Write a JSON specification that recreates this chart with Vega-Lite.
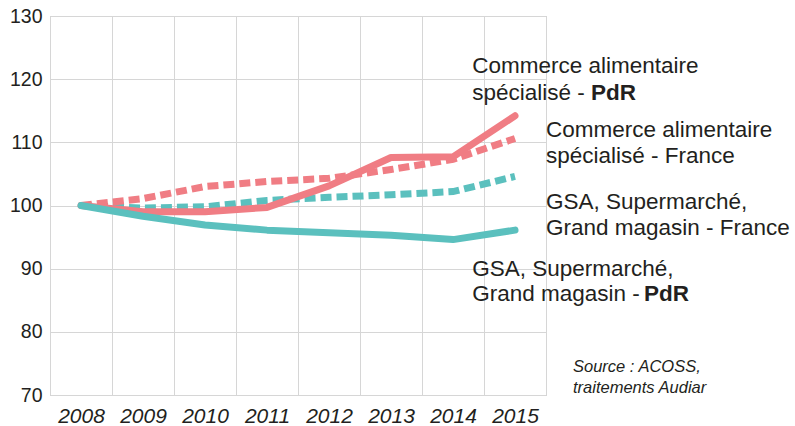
{
  "$schema": "https://vega.github.io/schema/vega-lite/v6.json",
  "width": 496,
  "height": 379,
  "autosize": "none",
  "padding": {"left": 50, "top": 16, "right": 249, "bottom": 31},
  "background": "white",
  "config": {
    "view": {"stroke": "#bdbdbd", "strokeWidth": 1},
    "axis": {"gridColor": "#d6d6d6", "gridWidth": 1, "domain": false, "ticks": false, "tickSize": 0, "title": null, "labelColor": "#231f20"}
  },
  "datasets": {
    "series": [
      {"year": "2008", "series": "GSA France", "value": 100},
      {"year": "2009", "series": "GSA France", "value": 99.6},
      {"year": "2010", "series": "GSA France", "value": 99.8},
      {"year": "2011", "series": "GSA France", "value": 100.8},
      {"year": "2012", "series": "GSA France", "value": 101.3},
      {"year": "2013", "series": "GSA France", "value": 101.7},
      {"year": "2014", "series": "GSA France", "value": 102.2},
      {"year": "2015", "series": "GSA France", "value": 104.6},
      {"year": "2008", "series": "Commerce France", "value": 100},
      {"year": "2009", "series": "Commerce France", "value": 101.1},
      {"year": "2010", "series": "Commerce France", "value": 103.0},
      {"year": "2011", "series": "Commerce France", "value": 103.8},
      {"year": "2012", "series": "Commerce France", "value": 104.3},
      {"year": "2013", "series": "Commerce France", "value": 105.7},
      {"year": "2014", "series": "Commerce France", "value": 107.3},
      {"year": "2015", "series": "Commerce France", "value": 110.6},
      {"year": "2008", "series": "Commerce PdR", "value": 100},
      {"year": "2009", "series": "Commerce PdR", "value": 99.0},
      {"year": "2010", "series": "Commerce PdR", "value": 99.0},
      {"year": "2011", "series": "Commerce PdR", "value": 99.7},
      {"year": "2012", "series": "Commerce PdR", "value": 103.1},
      {"year": "2013", "series": "Commerce PdR", "value": 107.6},
      {"year": "2014", "series": "Commerce PdR", "value": 107.7},
      {"year": "2015", "series": "Commerce PdR", "value": 114.2},
      {"year": "2008", "series": "GSA PdR", "value": 100},
      {"year": "2009", "series": "GSA PdR", "value": 98.3},
      {"year": "2010", "series": "GSA PdR", "value": 96.9},
      {"year": "2011", "series": "GSA PdR", "value": 96.1},
      {"year": "2012", "series": "GSA PdR", "value": 95.7},
      {"year": "2013", "series": "GSA PdR", "value": 95.3},
      {"year": "2014", "series": "GSA PdR", "value": 94.6},
      {"year": "2015", "series": "GSA PdR", "value": 96.1}
    ],
    "labels": [
      {"year": "2014", "value": 120.93, "text": "Commerce alimentaire", "kind": "left"},
      {"year": "2014", "value": 116.7, "text": "spécialisé -", "kind": "left"},
      {"year": "2015", "value": 116.7, "text": "PdR", "kind": "bold1"},
      {"year": "2015", "value": 110.85, "text": "Commerce alimentaire", "kind": "right"},
      {"year": "2015", "value": 106.73, "text": "spécialisé - France", "kind": "right"},
      {"year": "2015", "value": 99.4, "text": "GSA, Supermarché,", "kind": "right"},
      {"year": "2015", "value": 95.33, "text": "Grand magasin - France", "kind": "right"},
      {"year": "2014", "value": 88.85, "text": "GSA, Supermarché,", "kind": "left"},
      {"year": "2014", "value": 84.9, "text": "Grand magasin -", "kind": "left"},
      {"year": "2015", "value": 84.9, "text": "PdR", "kind": "bold2"},
      {"year": "2015", "value": 73.69, "text": "Source : ACOSS,", "kind": "source"},
      {"year": "2015", "value": 70.27, "text": "traitements Audiar", "kind": "source"}
    ]
  },
  "encoding": {
    "x": {
      "field": "year", "type": "ordinal",
      "scale": {"type": "band", "paddingInner": 0, "paddingOuter": 0, "domain": ["2008","2009","2010","2011","2012","2013","2014","2015"]},
      "axis": {"grid": true, "tickBand": "extent", "labelAngle": 0, "labelFont": "Liberation Sans", "labelFontStyle": "italic", "labelFontSize": 21, "labelBaseline": "alphabetic", "labelPadding": 27}
    },
    "y": {
      "field": "value", "type": "quantitative",
      "scale": {"domain": [70, 130], "nice": false, "zero": false},
      "axis": {"grid": true, "values": [70, 80, 90, 100, 110, 120, 130], "labelFont": "Liberation Sans", "labelFontSize": 19.5, "labelPadding": 8, "labelBaseline": "middle"}
    }
  },
  "layer": [
    {"data": {"name": "series"}, "transform": [{"filter": "datum.series === 'GSA France'"}],
     "mark": {"type": "line", "color": "#5bc0be", "strokeWidth": 7, "strokeDash": [11, 5], "strokeCap": "butt"}},
    {"data": {"name": "series"}, "transform": [{"filter": "datum.series === 'Commerce France'"}],
     "mark": {"type": "line", "color": "#f07d84", "strokeWidth": 7, "strokeDash": [11, 5], "strokeCap": "butt"}},
    {"data": {"name": "series"}, "transform": [{"filter": "datum.series === 'Commerce PdR'"}],
     "mark": {"type": "line", "color": "#f07d84", "strokeWidth": 7, "strokeCap": "round", "strokeJoin": "round"}},
    {"data": {"name": "series"}, "transform": [{"filter": "datum.series === 'GSA PdR'"}],
     "mark": {"type": "line", "color": "#5bc0be", "strokeWidth": 7, "strokeCap": "round", "strokeJoin": "round"}},
    {"data": {"name": "labels"}, "transform": [{"filter": "datum.kind === 'left'"}],
     "mark": {"type": "text", "align": "left", "baseline": "alphabetic", "font": "Liberation Sans", "fontSize": 22.5, "color": "#231f20"},
     "encoding": {"x": {"field": "year", "type": "ordinal", "bandPosition": 0.81}, "text": {"field": "text"}}},
    {"data": {"name": "labels"}, "transform": [{"filter": "datum.kind === 'right'"}],
     "mark": {"type": "text", "align": "left", "baseline": "alphabetic", "font": "Liberation Sans", "fontSize": 22.5, "color": "#231f20"},
     "encoding": {"x": {"field": "year", "type": "ordinal", "bandPosition": 1}, "text": {"field": "text"}}},
    {"data": {"name": "labels"}, "transform": [{"filter": "datum.kind === 'bold1'"}],
     "mark": {"type": "text", "align": "left", "baseline": "alphabetic", "font": "Liberation Sans", "fontSize": 22.5, "fontWeight": "bold", "color": "#231f20", "dx": 45},
     "encoding": {"x": {"field": "year", "type": "ordinal", "bandPosition": 1}, "text": {"field": "text"}}},
    {"data": {"name": "labels"}, "transform": [{"filter": "datum.kind === 'bold2'"}],
     "mark": {"type": "text", "align": "left", "baseline": "alphabetic", "font": "Liberation Sans", "fontSize": 22.5, "fontWeight": "bold", "color": "#231f20", "dx": 98},
     "encoding": {"x": {"field": "year", "type": "ordinal", "bandPosition": 1}, "text": {"field": "text"}}},
    {"data": {"name": "labels"}, "transform": [{"filter": "datum.kind === 'source'"}],
     "mark": {"type": "text", "align": "left", "baseline": "alphabetic", "font": "Liberation Sans", "fontStyle": "italic", "fontSize": 16.5, "color": "#231f20", "dx": 27},
     "encoding": {"x": {"field": "year", "type": "ordinal", "bandPosition": 1}, "text": {"field": "text"}}}
  ]
}
